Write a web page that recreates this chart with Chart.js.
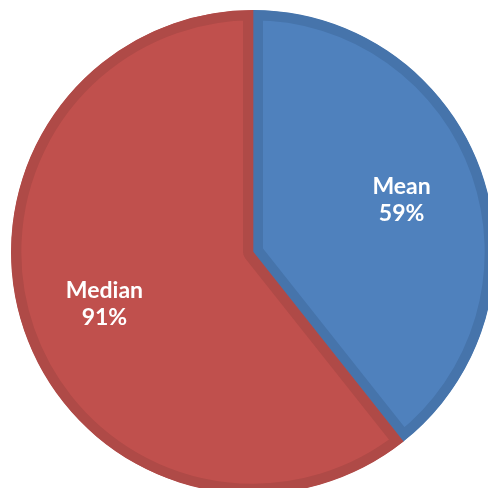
<!DOCTYPE html>
<html>
<head>
<meta charset="utf-8">
<script src="https://cdn.jsdelivr.net/npm/chart.js@4"></script>
<style>
  html, body { margin: 0; padding: 0; background: #fff; overflow: hidden; }
  #wrap { position: absolute; left: 0; top: 0; width: 506px; height: 504px; }
</style>
</head>
<body>
<div id="wrap"><canvas id="pie" width="506" height="504"></canvas></div>
<script>
// Pie of two shares, Mean first (starts at 12 o'clock, clockwise)
const labels = ['Mean', 'Median'];
const values = [59, 91];
const fills = ['#4F81BD', '#C0504D'];
const edges = ['#4674AB', '#AF4A47'];

// draws "Name / NN%" inside each slice, at ~65% of the radius along the mid-angle
const sliceLabels = {
  id: 'sliceLabels',
  afterDatasetsDraw(chart) {
    const ctx = chart.ctx;
    const meta = chart.getDatasetMeta(0);
    ctx.save();
    ctx.fillStyle = '#fff';
    ctx.font = 'bold 23px Lato, "Open Sans", sans-serif';
    ctx.textAlign = 'center';
    ctx.textBaseline = 'alphabetic';
    meta.data.forEach((arc, i) => {
      const p = arc.getProps(['x', 'y', 'startAngle', 'endAngle', 'outerRadius']);
      const mid = (p.startAngle + p.endAngle) / 2;
      const r = p.outerRadius * 0.65;
      const cx = p.x + Math.cos(mid) * r;
      const cy = p.y + Math.sin(mid) * r;
      ctx.fillText(labels[i], cx, cy - 6);
      ctx.fillText(values[i] + '%', cx, cy + 21);
    });
    ctx.restore();
  }
};

new Chart(document.getElementById('pie'), {
  type: 'pie',
  data: {
    labels: labels,
    datasets: [{
      data: values,
      backgroundColor: fills,
      borderColor: edges,
      borderWidth: 10,
      borderAlign: 'inner',
    }],
  },
  options: {
    responsive: false,
    animation: false,
    events: [],
    layout: { padding: 10 },
    plugins: {
      legend: { display: false },
      tooltip: { enabled: false },
    },
  },
  plugins: [sliceLabels],
});
</script>
</body>
</html>
